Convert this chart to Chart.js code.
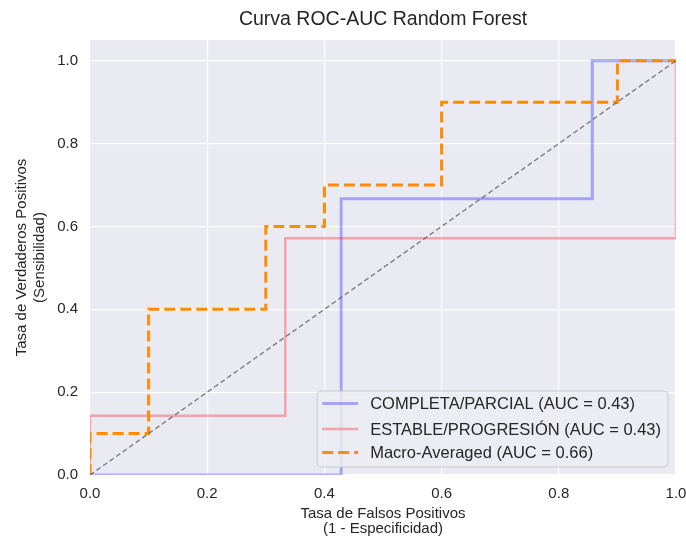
<!DOCTYPE html>
<html>
<head>
<meta charset="utf-8">
<script src="https://cdn.jsdelivr.net/npm/chart.js@4/dist/chart.umd.min.js"></script>
<style>
  body { margin: 0; background: #ffffff; }
  #wrap { width: 686px; height: 536px; }
</style>
</head>
<body>
<div id="wrap"><canvas id="output" width="686" height="536"></canvas></div>
<script>
// ROC points (corners of each step)
const fprCompleta = [0, 0.4286, 0.4286, 0.8571, 0.8571, 1];
const tprCompleta = [0, 0, 0.6667, 0.6667, 1, 1];

const fprEstable = [0, 0, 0.3333, 0.3333, 1, 1];
const tprEstable = [0, 0.1429, 0.1429, 0.5714, 0.5714, 1];

const fprMacro = [0, 0, 0.1, 0.1, 0.3, 0.3, 0.4, 0.4, 0.6, 0.6, 0.9, 0.9, 1];
const tprMacro = [0, 0.1, 0.1, 0.4, 0.4, 0.6, 0.6, 0.7, 0.7, 0.9, 0.9, 1, 1];

// chance line
const fprChance = [0, 1];
const tprChance = [0, 1];

const seriesLabels = [
    'COMPLETA/PARCIAL (AUC = 0.43)',
    'ESTABLE/PROGRESIÓN (AUC = 0.43)',
    'Macro-Averaged (AUC = 0.66)'
];

const titleText = 'Curva ROC-AUC Random Forest';
const xTitle = ['Tasa de Falsos Positivos', '(1 - Especificidad)'];
const yTitle = ['Tasa de Verdaderos Positivos', '(Sensibilidad)'];

const FONT = "'Liberation Sans', Arial, sans-serif";
const TEXT = '#262626';

function toPoints(xs, ys) {
    return xs.map((x, i) => ({ x: x, y: ys[i] }));
}

// title centred over the plot area, like matplotlib
const titlePlugin = {
    id: 'axTitle',
    afterDraw(chart) {
        const { ctx, chartArea } = chart;
        ctx.save();
        ctx.font = '19.5px ' + FONT;
        ctx.fillStyle = TEXT;
        ctx.textAlign = 'center';
        ctx.textBaseline = 'middle';
        ctx.fillText(titleText, (chartArea.left + chartArea.right) / 2, 20);
        ctx.restore();
    }
};

// legend box in the lower right corner of the axes
const innerLegend = {
    id: 'innerLegend',
    afterDatasetsDraw(chart) {
        const { ctx, chartArea } = chart;
        const items = chart.data.datasets.filter(d => d.label);
        ctx.save();
        ctx.font = '16.5px ' + FONT;
        const textW = Math.max(...items.map(d => ctx.measureText(d.label).width));
        const w = 53 + textW + 7;
        const h = 76;
        const x0 = chartArea.right - 8 - w;
        const y0 = chartArea.bottom - 8 - h;

        ctx.beginPath();
        ctx.roundRect(x0, y0, w, h, 4);
        ctx.fillStyle = 'rgba(236,236,243,0.85)';
        ctx.fill();
        ctx.strokeStyle = 'rgba(200,200,200,0.9)';
        ctx.lineWidth = 1;
        ctx.stroke();

        const rows = [12.5, 38, 61.5];
        items.forEach((d, i) => {
            const y = y0 + rows[i];
            ctx.beginPath();
            ctx.setLineDash(d.borderDash || []);
            ctx.strokeStyle = d.borderColor;
            ctx.lineWidth = d.borderWidth;
            ctx.moveTo(x0 + 5, y);
            ctx.lineTo(x0 + 41, y);
            ctx.stroke();
            ctx.setLineDash([]);
            ctx.fillStyle = TEXT;
            ctx.textAlign = 'left';
            ctx.textBaseline = 'middle';
            ctx.fillText(d.label, x0 + 53, y + 1);
        });
        ctx.restore();
    }
};

const ctx = document.getElementById('output').getContext('2d');

new Chart(ctx, {
    type: 'scatter',
    data: {
        datasets: [
            {
                label: seriesLabels[0],
                data: toPoints(fprCompleta, tprCompleta),
                showLine: true,
                borderColor: 'rgba(0,0,255,0.3)',
                borderWidth: 3,
                pointRadius: 0,
                clip: 0,
                order: 3
            },
            {
                label: seriesLabels[1],
                data: toPoints(fprEstable, tprEstable),
                showLine: true,
                borderColor: 'rgba(255,0,0,0.3)',
                borderWidth: 2.5,
                pointRadius: 0,
                clip: 0,
                order: 2
            },
            {
                label: seriesLabels[2],
                data: toPoints(fprMacro, tprMacro),
                showLine: true,
                borderColor: '#ff8c00',
                borderWidth: 3,
                borderDash: [11, 5],
                pointRadius: 0,
                clip: 0,
                order: 1
            },
            {
                label: '',
                data: toPoints(fprChance, tprChance),
                showLine: true,
                borderColor: 'rgba(90,90,90,0.75)',
                borderWidth: 1.4,
                borderDash: [5, 3],
                pointRadius: 0,
                clip: 0,
                order: 0
            }
        ]
    },
    options: {
        responsive: false,
        animation: false,
        devicePixelRatio: 1,
        layout: { padding: { top: 40, right: 0, left: 0, bottom: 0 } },
        plugins: {
            legend: { display: false },
            tooltip: { enabled: false }
        },
        scales: {
            x: {
                type: 'linear',
                min: 0,
                max: 1,
                afterFit: s => {
                    s.height = 61;
                    s.paddingLeft = 0;
                    s.paddingRight = 10;
                },
                border: { display: false },
                grid: { color: '#ffffff', lineWidth: 1.2, drawTicks: false },
                ticks: {
                    stepSize: 0.2,
                    padding: 10,
                    color: TEXT,
                    font: { family: FONT, size: 15 },
                    maxRotation: 0,
                    callback: v => v.toFixed(1)
                },
                title: {
                    display: true,
                    text: xTitle,
                    color: TEXT,
                    font: { family: FONT, size: 15, lineHeight: 1.0 },
                    padding: { top: 0, bottom: 0 }
                }
            },
            y: {
                type: 'linear',
                min: 0,
                max: 1.05,
                afterFit: s => {
                    s.width = 90;
                    s.paddingTop = 0;
                    s.paddingBottom = 0;
                },
                afterBuildTicks: s => { s.ticks = s.ticks.filter(t => t.value <= 1.0001); },
                border: { display: false },
                grid: { color: '#ffffff', lineWidth: 1.2, drawTicks: false },
                ticks: {
                    stepSize: 0.2,
                    padding: 12,
                    color: TEXT,
                    font: { family: FONT, size: 15 },
                    callback: v => v.toFixed(1)
                },
                title: {
                    display: true,
                    text: yTitle,
                    color: TEXT,
                    font: { family: FONT, size: 15, lineHeight: 1.2 },
                    padding: { top: 13, bottom: 0 }
                }
            }
        }
    },
    plugins: [titlePlugin, innerLegend, {
        id: 'plotBg',
        beforeDraw(chart) {
            const { ctx, chartArea } = chart;
            ctx.save();
            ctx.fillStyle = '#eaeaf2';
            ctx.fillRect(chartArea.left, chartArea.top, chartArea.right - chartArea.left, chartArea.bottom - chartArea.top);
            ctx.restore();
        }
    }]
});
</script>
</body>
</html>
